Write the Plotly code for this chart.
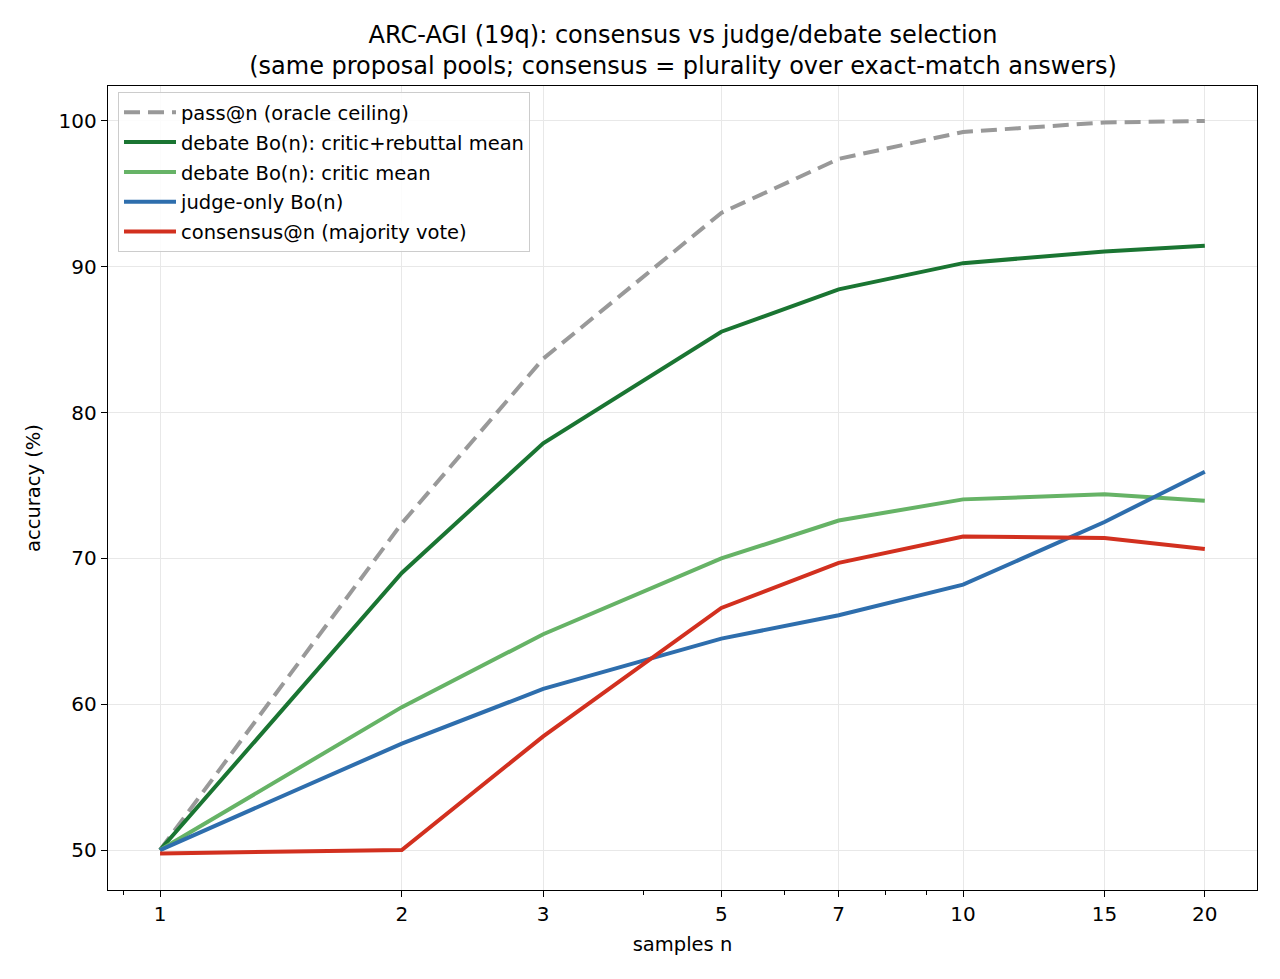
import plotly.graph_objects as go

# samples n on a log axis
n_samples = [1, 2, 3, 5, 7, 10, 15, 20]

pass_at_n = [50.0, 72.4, 83.7, 93.7, 97.4, 99.25, 99.9, 100.0]
debate_critic_rebuttal = [50.0, 69.0, 77.9, 85.55, 88.45, 90.25, 91.05, 91.45]
debate_critic = [50.0, 59.8, 64.8, 70.0, 72.6, 74.05, 74.4, 73.95]
judge_only = [50.0, 57.3, 61.05, 64.5, 66.1, 68.2, 72.5, 75.95]
consensus = [49.77, 50.0, 57.8, 66.6, 69.7, 71.5, 71.4, 70.65]

x_ticks = [1, 2, 3, 5, 7, 10, 15, 20]
x_minor = [0.9, 4, 6, 8, 9]
y_ticks = [50, 60, 70, 80, 90, 100]

FONT = "DejaVu Sans, Verdana, sans-serif"
LW = 4

series = [
    ("pass@n (oracle ceiling)", pass_at_n, "#999999", "16px,8px"),
    ("debate Bo(n): critic+rebuttal mean", debate_critic_rebuttal, "#1a7532", "solid"),
    ("debate Bo(n): critic mean", debate_critic, "#66b366", "solid"),
    ("judge-only Bo(n)", judge_only, "#2e6ead", "solid"),
    ("consensus@n (majority vote)", consensus, "#d2301f", "solid"),
]

fig = go.Figure()
for i, (name, vals, color, dash) in enumerate(series):
    fig.add_trace(go.Scatter(
        x=n_samples, y=vals, name=name, mode="lines", legendgroup=f"g{i}",
        line=dict(color=color, width=LW, dash=dash),
    ))

# page body has an 8px margin, so the figure is drawn 8px smaller
fig.update_layout(
    width=1272, height=971,
    paper_bgcolor="white", plot_bgcolor="white",
    font=dict(family=FONT, size=19.5, color="black"),
    margin=dict(l=100, r=23, t=78, b=89),
    title=dict(
        text="ARC-AGI (19q): consensus vs judge/debate selection<br>"
             "(same proposal pools; consensus = plurality over exact-match answers)",
        x=0.5307, xanchor="center", yref="container", y=0.964, yanchor="top",
        font=dict(size=24),
    ),
    legend=dict(
        x=0.0087, y=0.9925, xanchor="left", yanchor="top",
        bgcolor="rgba(255,255,255,0.85)", bordercolor="#cccccc", borderwidth=1,
        font=dict(size=19.5), tracegroupgap=1.5, itemwidth=52,
    ),
    showlegend=True,
)

fig.update_xaxes(
    type="log", range=[-0.0648, 1.366],
    tickmode="array", tickvals=x_ticks, ticktext=[str(v) for v in x_ticks],
    tickfont=dict(size=20),
    ticks="outside", ticklen=6, tickwidth=1.2, tickcolor="black",
    showgrid=True, gridcolor="#e8e8e8", gridwidth=1,
    showline=True, linecolor="black", linewidth=1.4, mirror=True,
    zeroline=False,
    minor=dict(tickmode="array", tickvals=x_minor, ticks="outside",
               ticklen=3.5, tickwidth=1, tickcolor="black", showgrid=False),
    title=dict(text="samples n", font=dict(size=19.5), standoff=12),
)
fig.update_yaxes(
    range=[47.26, 102.4],
    tickmode="array", tickvals=y_ticks,
    tickfont=dict(size=20),
    ticks="outside", ticklen=6, tickwidth=1.2, tickcolor="black",
    showgrid=True, gridcolor="#e8e8e8", gridwidth=1,
    showline=True, linecolor="black", linewidth=1.4, mirror=True,
    zeroline=False,
    title=dict(text="accuracy (%)", font=dict(size=19.5), standoff=12),
)

fig.write_html("out.html")
